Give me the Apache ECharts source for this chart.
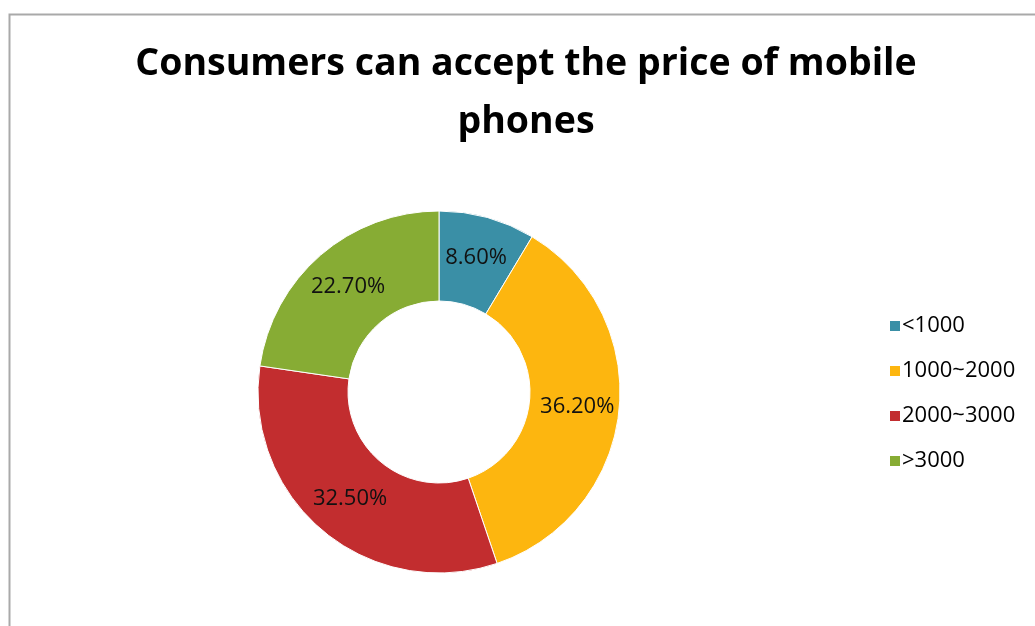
<!DOCTYPE html>
<html>
<head>
<meta charset="utf-8">
<script src="https://cdn.jsdelivr.net/npm/echarts@6/dist/echarts.min.js"></script>
<style>
  html, body { margin: 0; padding: 0; background: #fff; }
  #chart { width: 1035px; height: 626px; }
</style>
</head>
<body>
<div id="chart"></div>
<script>
// Price ranges and share of consumers (%)
const categories = ['<1000', '1000~2000', '2000~3000', '>3000'];
const shares = [8.6, 36.2, 32.5, 22.7];
const colors = ['#3A8FA6', '#FDB60F', '#C22D2F', '#87AC34'];
const titleText = 'Consumers can accept the price of mobile\nphones';

const chart = echarts.init(document.getElementById('chart'), null, { renderer: 'canvas' });

chart.setOption({
  backgroundColor: '#ffffff',
  animation: false,
  graphic: [{
    type: 'rect',
    shape: { x: 9.5, y: 14.5, width: 1100, height: 700 },
    style: { fill: 'none', stroke: '#a9a9a9', lineWidth: 2 },
    silent: true
  }],
  title: {
    text: titleText,
    left: 521,
    textAlign: 'center',
    top: 30,
    textStyle: {
      fontFamily: 'Open Sans',
      fontWeight: 'bold',
      fontSize: 37.5,
      lineHeight: 58,
      color: '#000'
    }
  },
  legend: {
    orient: 'vertical',
    left: 883,
    top: 310,
    itemWidth: 12,
    itemHeight: 12,
    itemGap: 23,
    icon: 'rect',
    textStyle: { fontFamily: 'Open Sans', fontSize: 22, color: '#000', padding: [0, 0, 0, -4] },
    data: categories
  },
  series: [{
    type: 'pie',
    center: [439, 392],
    radius: [91, 181],
    startAngle: 90,
    clockwise: true,
    avoidLabelOverlap: false,
    label: {
      show: true,
      position: 'inside',
      formatter: p => p.value.toFixed(2) + '%',
      fontFamily: 'Open Sans',
      fontSize: 22,
      color: '#111'
    },
    labelLine: { show: false },
    itemStyle: { borderColor: '#ffffff', borderWidth: 1 },
    emphasis: { disabled: true },
    data: categories.map((name, i) => ({
      name,
      value: shares[i],
      itemStyle: { color: colors[i] }
    }))
  }]
});
</script>
</body>
</html>
